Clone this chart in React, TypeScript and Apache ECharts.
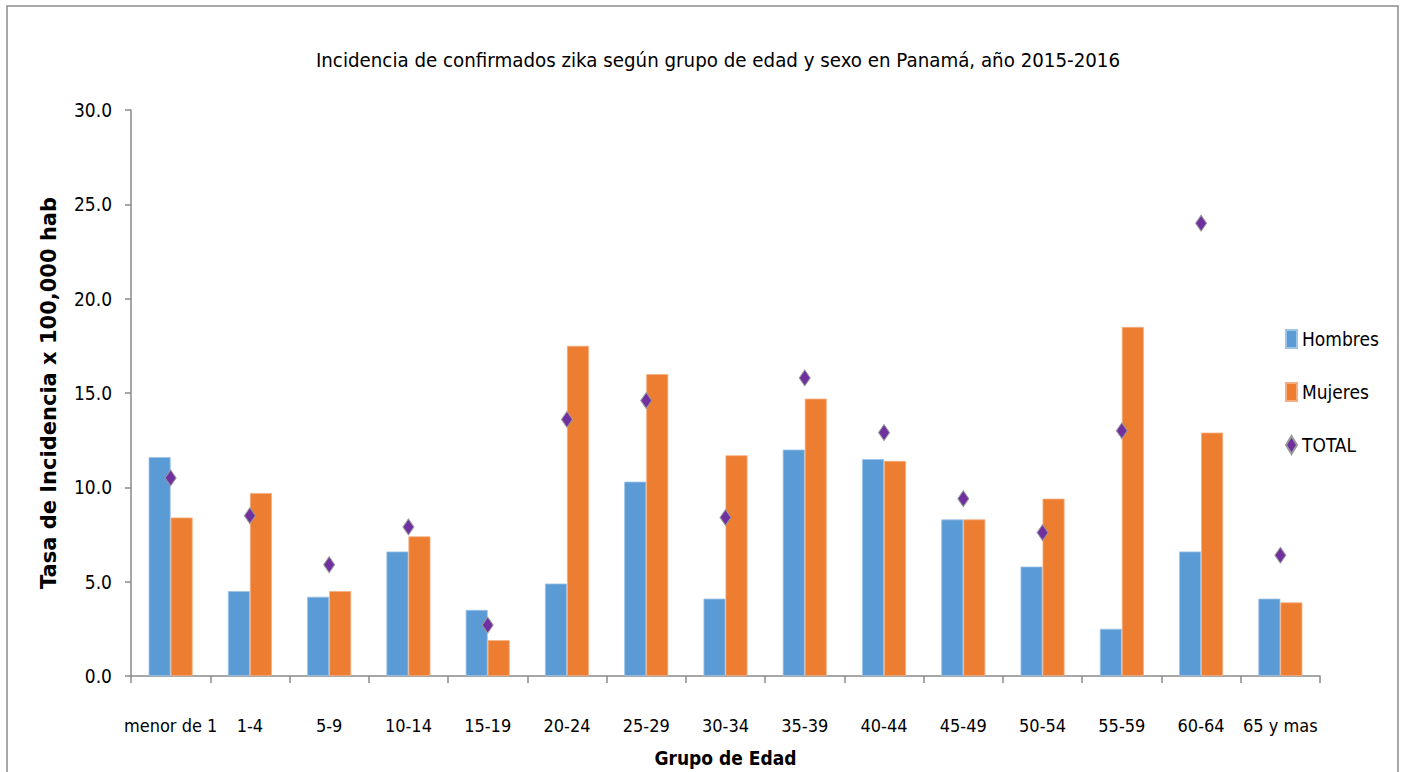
import React, { useEffect, useRef } from "react";
import * as echarts from "echarts";

const categories = ["menor de 1", "1-4", "5-9", "10-14", "15-19", "20-24", "25-29", "30-34", "35-39", "40-44", "45-49", "50-54", "55-59", "60-64", "65 y mas"];
const hombres = [11.6, 4.5, 4.2, 6.6, 3.5, 4.9, 10.3, 4.1, 12.0, 11.5, 8.3, 5.8, 2.5, 6.6, 4.1];
const mujeres = [8.4, 9.7, 4.5, 7.4, 1.9, 17.5, 16.0, 11.7, 14.7, 11.4, 8.3, 9.4, 18.5, 12.9, 3.9];
const total = [10.5, 8.5, 5.9, 7.9, 2.7, 13.6, 14.6, 8.4, 15.8, 12.9, 9.4, 7.6, 13.0, 24.0, 6.4];

const NARROW = '"Liberation Sans Narrow", "DejaVu Sans Condensed", "Liberation Sans", sans-serif';

export default function App() {
  const ref = useRef<HTMLDivElement>(null);
  useEffect(() => {
    document.body.style.margin = "0";
    document.body.style.overflow = "hidden";
    const chart = echarts.init(ref.current!, null, { renderer: "svg" });
    chart.setOption({
      animation: false,
      backgroundColor: "#ffffff",
      title: {
        text: "Incidencia de confirmados zika según grupo de edad y sexo en Panamá, año 2015-2016",
        left: 713,
        textAlign: "center",
        top: 45,
        textStyle: { fontFamily: NARROW, fontSize: 20.3, fontWeight: "normal", color: "#000" },
      },
      graphic: [
        {
          type: "rect",
          shape: { x: 7, y: 6, width: 1391, height: 800 },
          style: { fill: "none", stroke: "#8c8c8c", lineWidth: 1.5 },
          silent: true,
        },
      ],
      legend: {
        orient: "vertical",
        left: 1280,
        top: 324,
        itemWidth: 11,
        itemHeight: 18,
        itemGap: 33,
        textStyle: { fontFamily: NARROW, fontSize: 19, color: "#000" },
        data: [
          { name: "Hombres", icon: "rect" },
          { name: "Mujeres", icon: "rect" },
          { name: "TOTAL", icon: "diamond" },
        ],
      },
      grid: { left: 131, right: 82, top: 110, height: 566, containLabel: false },
      xAxis: {
        type: "category",
        data: categories,
        axisLine: { lineStyle: { color: "#8a8a8a", width: 1.5 } },
        axisTick: { show: true, length: 7, lineStyle: { color: "#8a8a8a", width: 1.5 } },
        axisLabel: { interval: 0, margin: 40, fontFamily: NARROW, fontSize: 18, color: "#000" },
        name: "Grupo de Edad",
        nameLocation: "middle",
        nameGap: 72,
        nameTextStyle: { fontFamily: NARROW, fontSize: 19, fontWeight: "bold", color: "#000" },
      },
      yAxis: {
        type: "value",
        min: 0,
        max: 30,
        interval: 5,
        splitLine: { show: false },
        axisLine: { show: true, lineStyle: { color: "#8a8a8a", width: 1.5 } },
        axisTick: { show: true, length: 6, lineStyle: { color: "#8a8a8a", width: 1.5 } },
        axisLabel: {
          margin: 19,
          fontFamily: NARROW,
          fontSize: 19,
          color: "#000",
          formatter: (v: number) => v.toFixed(1),
        },
        name: "Tasa de Incidencia x 100,000 hab",
        nameLocation: "middle",
        nameGap: 72,
        nameTextStyle: { fontFamily: '"DejaVu Sans", Verdana, sans-serif', fontSize: 21, fontWeight: "bold", color: "#000" },
      },
      series: [
        {
          name: "Hombres",
          type: "bar",
          data: hombres,
          barWidth: 22,
          barGap: "0%",
          itemStyle: { color: "#5B9BD5", borderColor: "#9CC3E8", borderWidth: 0.8 },
        },
        {
          name: "Mujeres",
          type: "bar",
          data: mujeres,
          barWidth: 22,
          barGap: "0%",
          itemStyle: { color: "#ED7D31", borderColor: "#F5AE80", borderWidth: 0.8 },
        },
        {
          name: "TOTAL",
          type: "scatter",
          data: total,
          symbol: "diamond",
          symbolSize: [11, 16],
          itemStyle: { color: "#7030A0", borderColor: "#9a9a9a", borderWidth: 1, opacity: 1 },
          z: 5,
        },
      ],
    });
    return () => chart.dispose();
  }, []);
  return <div ref={ref} style={{ width: 1402, height: 772 }} />;
}
